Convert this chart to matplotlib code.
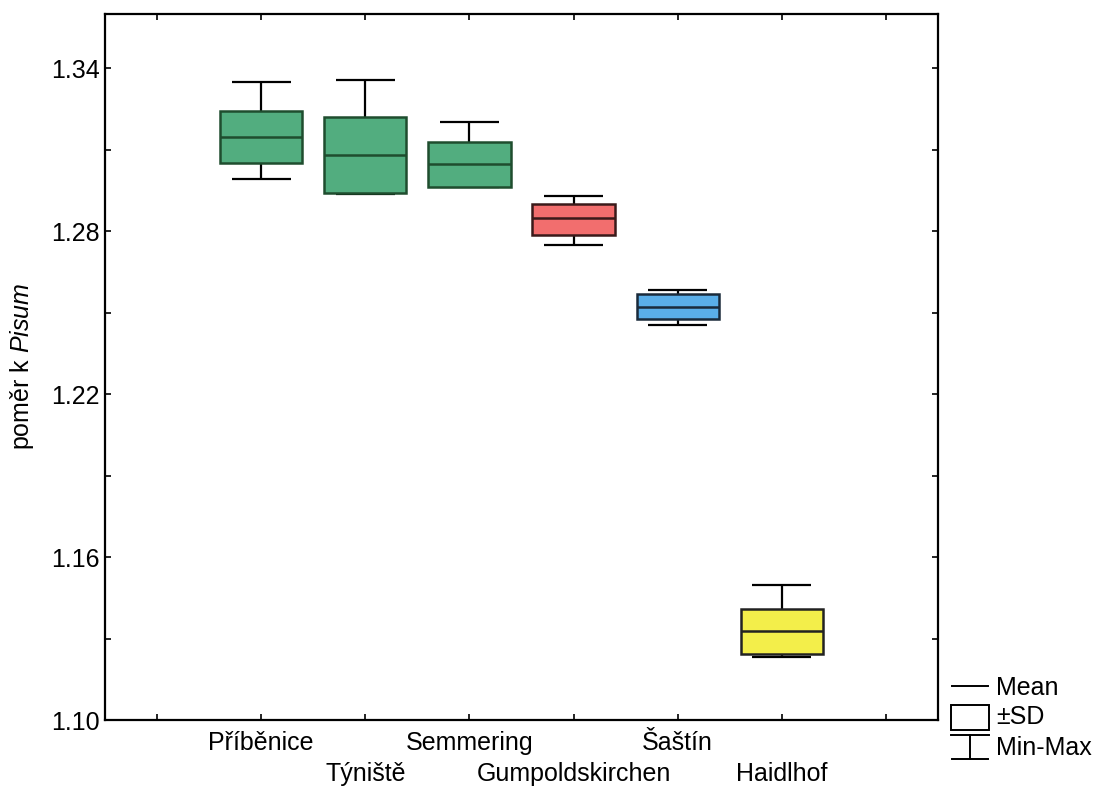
import matplotlib
matplotlib.use("Agg")
import matplotlib.pyplot as plt
from matplotlib.patches import Rectangle

plt.rcParams['font.family'] = ['Liberation Sans', 'DejaVu Sans']
plt.rcParams['mathtext.fontset'] = 'custom'
plt.rcParams['mathtext.rm'] = 'Liberation Sans'
plt.rcParams['mathtext.it'] = 'Liberation Sans:italic'

categories = ["Příběnice", "Týniště", "Semmering", "Gumpoldskirchen", "Šaštín", "Haidlhof"]
means = [1.3146, 1.3081, 1.3046, 1.2848, 1.2520, 1.1328]
sd_upper = [1.3244, 1.3220, 1.3128, 1.2901, 1.2567, 1.1410]
sd_lower = [1.3052, 1.2940, 1.2962, 1.2787, 1.2478, 1.1242]
maxs = [1.3351, 1.3357, 1.3201, 1.2929, 1.2585, 1.1496]
mins = [1.2994, 1.2938, 1.2964, 1.2750, 1.2456, 1.1232]
colors = ["#52ad7f", "#52ad7f", "#52ad7f", "#f26e6e", "#5aaee8", "#f3ee4a"]
edges = ["#1f4d2e", "#1f4d2e", "#1f4d2e", "#3a1a1a", "#1a2a3a", "#222222"]
yticks = [1.10, 1.16, 1.22, 1.28, 1.34]

FS = 18

fig = plt.figure(figsize=(11.03, 7.87), dpi=100)
ax = fig.add_axes([105/1103, 1-720/787, (938-105)/1103, (720-14)/787])

pos = list(range(1, len(categories)+1))
bw = 0.79
cw = 0.57
for x, lo, hi, mn, mx, mu, c, ec in zip(pos, sd_lower, sd_upper, mins, maxs, means, colors, edges):
    ax.vlines(x, hi, mx, color="black", lw=1.6, zorder=1)
    ax.vlines(x, mn, lo, color="black", lw=1.6, zorder=1)
    ax.hlines([mx, mn], x-cw/2, x+cw/2, color="black", lw=1.6, zorder=1)
    ax.bar(x, hi-lo, bottom=lo, width=bw, color=c, edgecolor=ec, linewidth=1.8, zorder=2)
    ax.hlines(mu, x-bw/2, x+bw/2, color=ec, lw=1.8, zorder=3)

ax.set_xlim(-0.5, 7.5)
ax.set_ylim(1.10, 1.36)
ax.set_xticks(range(0, 8))
ax.set_xticklabels([])
ax.set_yticks(yticks)
ax.set_yticklabels([f"{v:.2f}" for v in yticks], fontsize=FS)
ax.set_yticks([1.13, 1.19, 1.25, 1.31], minor=True)
ax.tick_params(axis="both", which="both", direction="in", top=True, right=True, length=4, width=1.2, pad=4)
for s in ax.spines.values():
    s.set_linewidth(1.6)

for i, (x, name) in enumerate(zip(pos, categories)):
    ax.text(x, -0.0156 if i % 2 == 0 else -0.0595, name, transform=ax.get_xaxis_transform(),
            ha="center", va="top", fontsize=FS)

fig.text(22/1103, 1-366/787, r"poměr k $\mathit{Pisum}$", rotation=90, fontsize=FS,
         ha="center", va="center")

# legend
lax = fig.add_axes([0, 0, 1, 1], facecolor="none")
lax.set_xlim(0, 1103)
lax.set_ylim(787, 0)
lax.axis("off")
lax.plot([952, 988], [686, 686], color="black", lw=1.4)
lax.add_patch(Rectangle((951, 705), 38, 25, fill=False, edgecolor="black", lw=1.4))
lax.plot([951, 989], [735, 735], color="black", lw=1.4)
lax.plot([970, 970], [735, 759], color="black", lw=1.4)
lax.plot([952, 988], [759, 759], color="black", lw=1.4)
lax.text(996, 688, "Mean", fontsize=FS, va="center")
lax.text(996, 717, "±SD", fontsize=FS, va="center")
lax.text(996, 748, "Min-Max", fontsize=FS, va="center")

fig.savefig("out.png", dpi=100)
